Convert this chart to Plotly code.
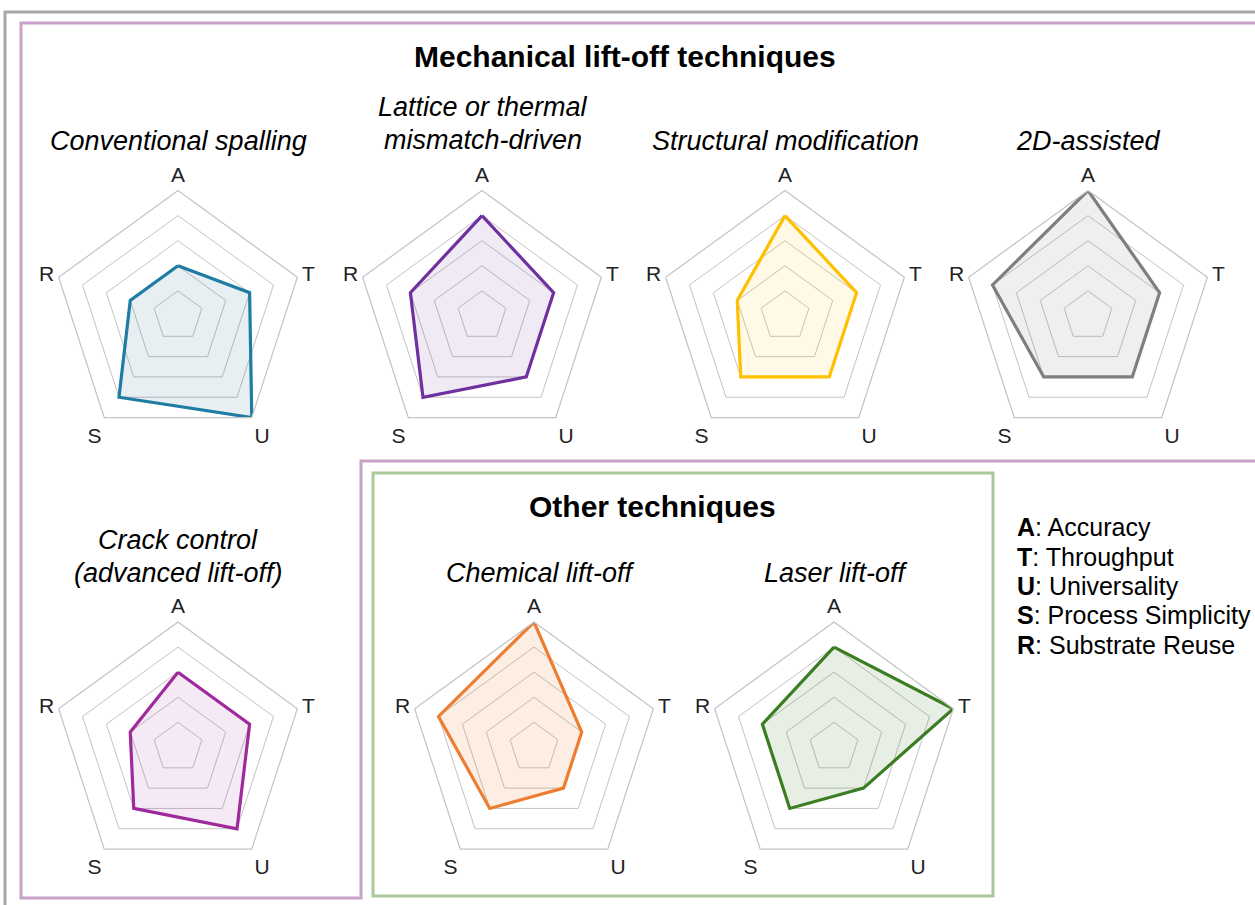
import plotly.graph_objects as go

W, H = 1255, 905

axes_labels = ["A", "T", "U", "S", "R"]

titles = [
    ["Conventional spalling"],
    ["Lattice or thermal", "mismatch-driven"],
    ["Structural modification"],
    ["2D-assisted"],
    ["Crack control", "(advanced lift-off)"],
    ["Chemical lift-off"],
    ["Laser lift-off"],
]

conventional_spalling = [2, 3, 5, 4, 2]
lattice_thermal = [4, 3, 3, 4, 3]
structural_modification = [4, 3, 3, 3, 2]
two_d_assisted = [5, 3, 3, 3, 4]
crack_control = [3, 3, 4, 3, 2]
chemical_liftoff = [5, 2, 2, 3, 4]
laser_liftoff = [4, 5, 2, 3, 3]

series = [conventional_spalling, lattice_thermal, structural_modification,
          two_d_assisted, crack_control, chemical_liftoff, laser_liftoff]

line_colors = ["#1f7ca3", "#7030a0", "#ffc000", "#7f7f7f", "#9e2a9c", "#ed7d31", "#3b7d23"]
fill_colors = ["rgba(31,100,140,0.10)", "rgba(112,48,160,0.10)", "rgba(255,192,0,0.10)",
               "rgba(127,127,127,0.12)", "rgba(158,42,156,0.10)", "rgba(237,125,49,0.13)",
               "rgba(59,125,35,0.12)"]

legend_letters = ["A", "T", "U", "S", "R"]
legend_names = ["Accuracy", "Throughput", "Universality", "Process Simplicity", "Substrate Reuse"]

# layout geometry (pixels)
centers = [(178, 316), (482, 316), (785, 316), (1088, 316),
           (178, 747.5), (534, 747.5), (834, 747.5)]
R = 125.5
title_pos = [[(178, 141)], [(483, 107), (483, 140)], [(785, 141)], [(1088, 141)],
             [(178, 540), (178, 573)], [(540, 573)], [(836, 573)]]


def px(x):
    return x / W


def py(y):
    return 1 - y / H


fig = go.Figure()
layout = dict(width=W, height=H, margin=dict(l=0, r=0, t=0, b=0),
              paper_bgcolor="white", plot_bgcolor="white", showlegend=False)

FONT = "Liberation Sans, Arial, sans-serif"
grid_col = "#c3c3c3"

for i, vals in enumerate(series):
    name = "polar" if i == 0 else f"polar{i+1}"
    cx, cy = centers[i]
    r_closed = list(vals) + [vals[0]]
    th_closed = axes_labels + [axes_labels[0]]
    fig.add_trace(go.Scatterpolar(
        r=r_closed, theta=th_closed, mode="lines", fill="toself",
        fillcolor=fill_colors[i], line=dict(color=line_colors[i], width=3.2),
        subplot=name, hoverinfo="skip"))
    layout[name] = dict(
        domain=dict(x=[px(cx - R), px(cx + R)], y=[py(cy + R), py(cy - R)]),
        bgcolor="rgba(0,0,0,0)",
        gridshape="linear",
        radialaxis=dict(range=[0, 5], dtick=1, showticklabels=False, ticks="",
                        showline=False, gridcolor=grid_col, gridwidth=1.2),
        angularaxis=dict(direction="clockwise", rotation=90, showgrid=False,
                         showline=True, linecolor=grid_col, linewidth=1.2,
                         ticks="",
                         tickfont=dict(family=FONT, size=21, color="#222222"),
                         categoryorder="array", categoryarray=axes_labels),
    )

annotations = []
annotations.append(dict(x=px(625), y=py(57), text="<b>Mechanical lift-off techniques</b>",
                        showarrow=False, xref="paper", yref="paper",
                        font=dict(family=FONT, size=30, color="black"),
                        xanchor="center", yanchor="middle"))
annotations.append(dict(x=px(652), y=py(507), text="<b>Other techniques</b>",
                        showarrow=False, xref="paper", yref="paper",
                        font=dict(family=FONT, size=30, color="black"),
                        xanchor="center", yanchor="middle"))

for i, lines in enumerate(titles):
    for line, (tx, ty) in zip(lines, title_pos[i]):
        annotations.append(dict(x=px(tx), y=py(ty), text=f"<i>{line}</i>",
                                showarrow=False, xref="paper", yref="paper",
                                font=dict(family=FONT, size=27, color="black"),
                                xanchor="center", yanchor="middle"))

leg_y = [527, 557, 586, 615, 645]
for letter, nm, ly in zip(legend_letters, legend_names, leg_y):
    annotations.append(dict(x=px(1015), y=py(ly), text=f"<b>{letter}</b>: {nm}",
                            showarrow=False, xref="paper", yref="paper",
                            font=dict(family=FONT, size=25, color="black"),
                            xanchor="left", yanchor="middle"))

layout["annotations"] = annotations


def path_px(points):
    s = ""
    for k, (x, y) in enumerate(points):
        s += ("M " if k == 0 else " L ") + f"{px(x):.5f},{py(y):.5f}"
    return s + " Z"


shapes = [
    dict(type="path", xref="paper", yref="paper",
         path=path_px([(5, 12), (1262, 12), (1262, 912), (5, 912)]),
         line=dict(color="#a3a8ac", width=3)),
    dict(type="path", xref="paper", yref="paper",
         path=path_px([(21, 23), (1262, 23), (1262, 461), (361, 461), (361, 898), (21, 898)]),
         line=dict(color="#c9a2c9", width=3)),
    dict(type="path", xref="paper", yref="paper",
         path=path_px([(373, 473), (993, 473), (993, 896), (373, 896)]),
         line=dict(color="#a9c99b", width=3)),
]
layout["shapes"] = shapes

fig.update_layout(**layout)
fig.write_html("out.html", config={"displayModeBar": False},
               post_script="document.body.style.margin='0';document.body.style.overflow='hidden';")
